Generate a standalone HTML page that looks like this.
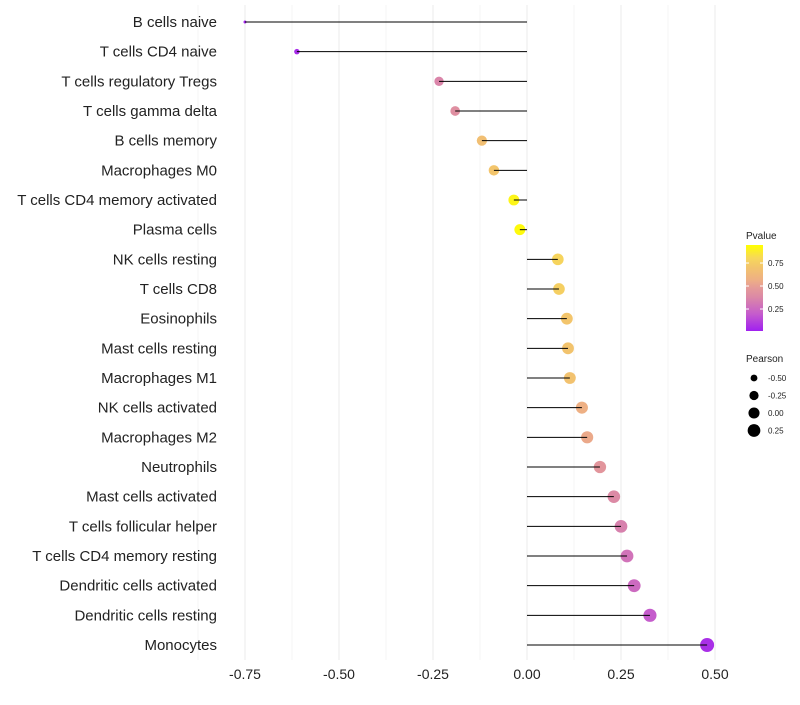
<!DOCTYPE html>
<html><head><meta charset="utf-8"><style>
body{margin:0;background:#fff;font-family:"Liberation Sans",sans-serif}
</style></head><body>
<svg id="c" width="800" height="700" xmlns="http://www.w3.org/2000/svg">
<defs><linearGradient id="pg" x1="0" y1="1" x2="0" y2="0">
<stop offset="0" stop-color="#a020f0"/><stop offset="0.2" stop-color="#c55ccc"/><stop offset="0.4" stop-color="#dc8aa5"/><stop offset="0.5" stop-color="#e59a98"/><stop offset="0.6" stop-color="#eeb084"/><stop offset="0.75" stop-color="#f3c66a"/><stop offset="0.85" stop-color="#f7d85a"/><stop offset="1" stop-color="#ffff00"/>
</linearGradient></defs>
</svg>
<script>
const categories=["B cells naive","T cells CD4 naive","T cells regulatory  Tregs ","T cells gamma delta","B cells memory","Macrophages M0","T cells CD4 memory activated","Plasma cells","NK cells resting","T cells CD8","Eosinophils","Mast cells resting","Macrophages M1","NK cells activated","Macrophages M2","Neutrophils","Mast cells activated","T cells follicular helper","T cells CD4 memory resting","Dendritic cells activated","Dendritic cells resting","Monocytes"];
const pearson=[-0.75,-0.612,-0.234,-0.191,-0.12,-0.088,-0.035,-0.019,0.082,0.085,0.106,0.109,0.114,0.146,0.16,0.194,0.231,0.25,0.266,0.285,0.327,0.479];
const pvalues=[0.01,0.04,0.38,0.43,0.7,0.74,0.96,0.98,0.83,0.8,0.74,0.73,0.72,0.6,0.57,0.47,0.4,0.36,0.3,0.26,0.2,0.05];
const xTicks=[-0.75,-0.5,-0.25,0,0.25,0.5];
const xTickLabels=["-0.75","-0.50","-0.25","0.00","0.25","0.50"];
const legP=[0.25,0.5,0.75];
const legPearson=[-0.5,-0.25,0,0.25];
const svg=document.getElementById('c');const NS="http://www.w3.org/2000/svg";
function mk(t,a,p){const e=document.createElementNS(NS,t);for(const k in a)e.setAttribute(k,a[k]);(p||svg).appendChild(e);return e;}
const xs=v=>527+v*376;
const ys=i=>22+i*(623/21);
const rs=v=>Math.sqrt(Math.max(0.5,2.25+(v+0.75)*38));
const stops=[[0,[160,32,240]],[0.2,[197,92,204]],[0.4,[220,138,165]],[0.5,[229,154,152]],[0.6,[238,176,132]],[0.75,[243,198,106]],[0.85,[247,216,90]],[1,[255,255,0]]];
function col(p){for(let k=1;k<stops.length;k++){if(p<=stops[k][0]){const a=stops[k-1],b=stops[k];const t=(p-a[0])/(b[0]-a[0]);return `rgb(${a[1].map((x,i)=>Math.round(x+(b[1][i]-x)*t))})`;}}return 'rgb(255,255,0)';}
for(let v=-0.875;v<=0.6;v+=0.125){const e=mk('line',{x1:xs(v),x2:xs(v),y1:5,y2:660,stroke:'#ebebeb','stroke-width':Math.abs(v*4-Math.round(v*4))<0.01?1:0.5});
}
xTicks.forEach((v,i)=>{const t=mk('text',{x:xs(v),y:679,'text-anchor':'middle','font-size':14,fill:'#222'});t.textContent=xTickLabels[i];
});
categories.forEach((c,i)=>{const y=ys(i);
const t=mk('text',{x:217,y:y+5,'text-anchor':'end','font-size':15,fill:'#222'});t.textContent=c;

const d=mk('circle',{cx:xs(pearson[i]),cy:y,r:rs(pearson[i]),fill:col(pvalues[i])});

const l=mk('line',{x1:xs(0),x2:xs(pearson[i]),y1:y,y2:y,stroke:'#000','stroke-width':1});
});
let t=mk('text',{x:746,y:239,'font-size':10,fill:'#222'});t.textContent='Pvalue';

const bar=mk('rect',{x:746,y:245,width:17,height:86,fill:'url(#pg)'});

const py=p=>331-(p-0.011)/0.935*86;
legP.forEach(p=>{const y=py(p);mk('line',{x1:746,x2:749,y1:y,y2:y,stroke:'#fff'});mk('line',{x1:760,x2:763,y1:y,y2:y,stroke:'#fff'});
const tt=mk('text',{x:768,y:y+3,'font-size':8,fill:'#222'});tt.textContent=p.toFixed(2);
});
t=mk('text',{x:746,y:362,'font-size':10,fill:'#222'});t.textContent='Pearson';

legPearson.forEach((v,i)=>{const y=378+i*17.5;const c=mk('circle',{cx:754,cy:y,r:rs(v),fill:'#000'});

const tt=mk('text',{x:768,y:y+3,'font-size':8,fill:'#222'});tt.textContent=v.toFixed(2);
});
</script>
</body></html>
